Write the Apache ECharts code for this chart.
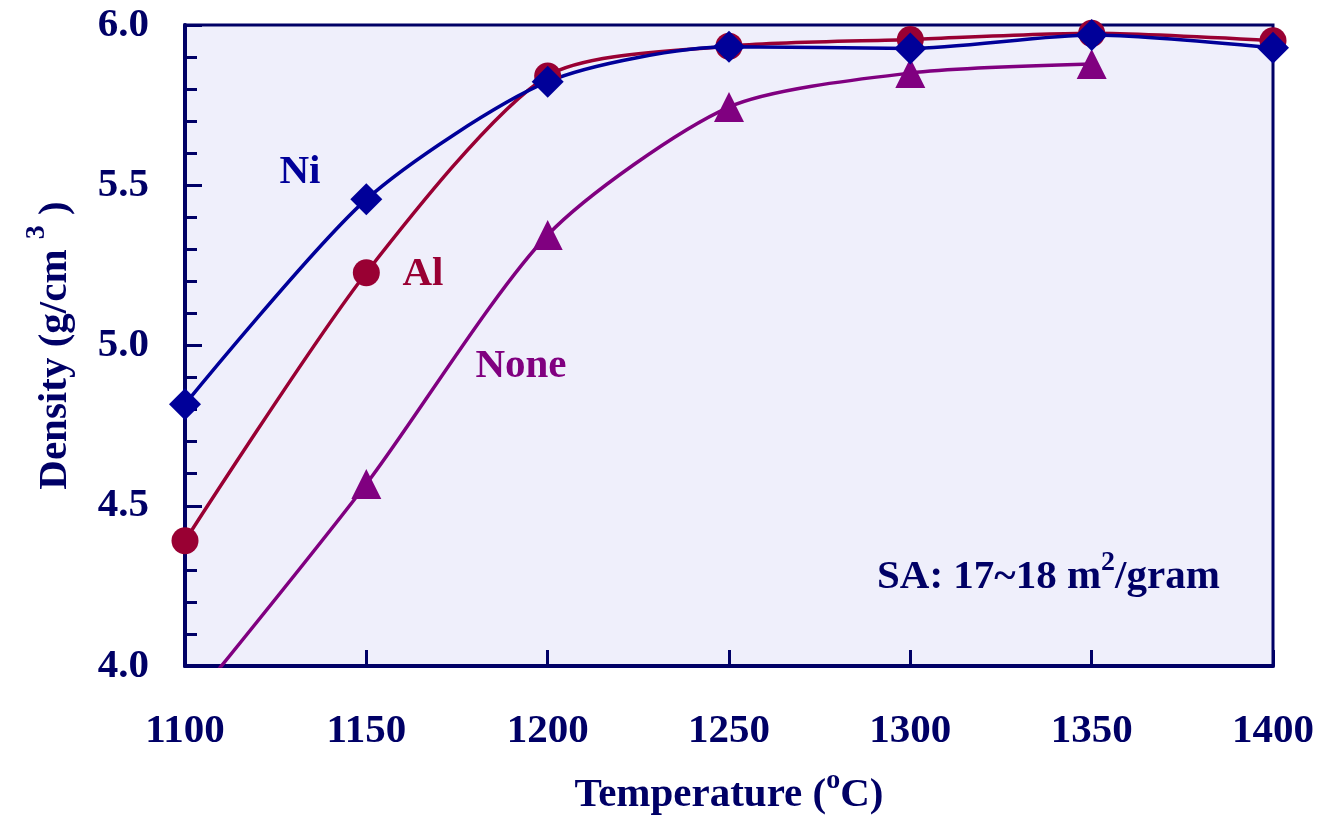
<!DOCTYPE html>
<html>
<head>
<meta charset="utf-8">
<script src="https://cdn.jsdelivr.net/npm/echarts@6/dist/echarts.min.js"></script>
<style>
  html, body { margin: 0; padding: 0; background: #ffffff; }
  #chart { width: 1323px; height: 820px; }
</style>
</head>
<body>
<div id="chart"></div>
<script>
// Sintering temperature (°C) and measured density (g/cm³) per dopant
const temperatures = [1100, 1150, 1200, 1250, 1300, 1350, 1400];
const densityNi   = [4.817, 5.456, 5.823, 5.932, 5.927, 5.969, 5.929];
const densityAl   = [4.391, 5.227, 5.841, 5.934, 5.955, 5.974, 5.951];
const densityNone = [3.86, 4.568, 5.345, 5.744, 5.85, 5.878, null];

const navy = '#000066';
const colNi = '#000099';
const colAl = '#990033';
const colNone = '#800080';
const serif = '"Liberation Serif", "Times New Roman", serif';

const pairs = (ys) => temperatures.map((t, i) => [t, ys[i]]);

// rich styles for axis names (color) and free text (fill): bold body text and raised superscripts
const richText = (raise) => ({
  b: { fontFamily: serif, fontWeight: 'bold', fontSize: 41, lineHeight: 41, padding: [raise, 0, 0, 0], color: navy, fill: navy },
  s: { fontFamily: serif, fontWeight: 'bold', fontSize: 28, lineHeight: 28, verticalAlign: 'top', color: navy, fill: navy }
});

const chart = echarts.init(document.getElementById('chart'), null, { renderer: 'canvas' });

chart.setOption({
  animation: false,
  backgroundColor: '#ffffff',
  grid: {
    left: 185, right: 50, top: 25, bottom: 154,
    outerBoundsMode: 'none',
    containLabel: false,
    show: true,
    backgroundColor: '#EFEFFB',
    borderColor: navy,
    borderWidth: 3
  },
  xAxis: {
    type: 'value',
    min: 1100, max: 1400, interval: 50,
    name: '{b|Temperature (}{s|o}{b|C)}',
    nameLocation: 'middle',
    nameGap: 101,
    nameTextStyle: { rich: richText(16) },
    axisLine: { show: true, lineStyle: { color: navy, width: 4 } },
    axisTick: { show: true, inside: true, length: 16, lineStyle: { color: navy, width: 3 } },
    splitLine: { show: false },
    axisLabel: {
      margin: 45,
      formatter: (v) => String(v),
      fontFamily: serif, fontWeight: 'bold', fontSize: 41, color: navy
    }
  },
  yAxis: {
    type: 'value',
    min: 4, max: 6, interval: 0.5,
    name: '{b|Density (g/cm }{s|3}{b| )}',
    nameLocation: 'middle',
    nameRotate: 90,
    nameGap: 121,
    nameTextStyle: { rich: richText(23) },
    axisLine: { show: true, lineStyle: { color: navy, width: 4 } },
    axisTick: { show: true, inside: true, length: 17, lineStyle: { color: navy, width: 3 } },
    minorTick: { show: true, splitNumber: 5, length: 12, lineStyle: { color: navy, width: 3 } },
    splitLine: { show: false },
    minorSplitLine: { show: false },
    axisLabel: {
      margin: 36,
      formatter: (v) => v.toFixed(1),
      fontFamily: serif, fontWeight: 'bold', fontSize: 41, color: navy
    }
  },
  series: [
    {
      name: 'None', type: 'line', data: pairs(densityNone),
      smooth: 0.25, connectNulls: false,
      symbol: 'triangle', symbolSize: 30, showAllSymbol: true,
      lineStyle: { color: colNone, width: 3.5 },
      itemStyle: { color: colNone }
    },
    {
      name: 'Al', type: 'line', data: pairs(densityAl),
      smooth: 0.25,
      symbol: 'circle', symbolSize: 27,
      lineStyle: { color: colAl, width: 3.5 },
      itemStyle: { color: colAl }
    },
    {
      name: 'Ni', type: 'line', data: pairs(densityNi),
      smooth: 0.25,
      symbol: 'diamond', symbolSize: 32,
      lineStyle: { color: colNi, width: 3.5 },
      itemStyle: { color: colNi }
    }
  ],
  graphic: [
    { type: 'text', x: 300, y: 172, style: { text: 'Ni', fill: colNi, font: 'bold 41px ' + serif, align: 'center', verticalAlign: 'middle' } },
    { type: 'text', x: 423, y: 274, style: { text: 'Al', fill: colAl, font: 'bold 41px ' + serif, align: 'center', verticalAlign: 'middle' } },
    { type: 'text', x: 521, y: 366, style: { text: 'None', fill: colNone, font: 'bold 41px ' + serif, align: 'center', verticalAlign: 'middle' } },
    {
      type: 'text', x: 877, y: 549,
      style: {
        text: '{b|SA: 17~18 m}{s|2}{b|/gram}',
        fill: navy,
        align: 'left', verticalAlign: 'top',
        rich: richText(16)
      }
    }
  ]
});
</script>
</body>
</html>
